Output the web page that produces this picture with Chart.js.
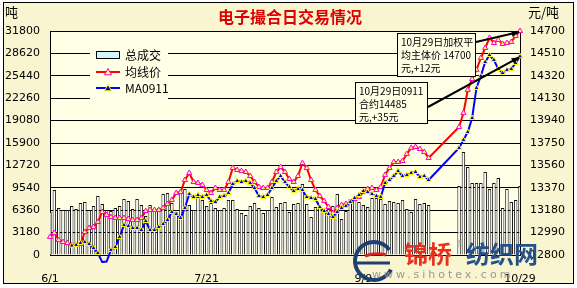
<!DOCTYPE html>
<html lang="zh-CN">
<head>
<meta charset="UTF-8">
<title>电子撮合日交易情况</title>
<script src="https://cdn.jsdelivr.net/npm/chart.js"></script>
<style>
  body { margin: 0; background: #fff; }
  #box { width: 577px; height: 288px; }
</style>
</head>
<body>
<div id="box"><canvas id="myChart"></canvas></div>
<script>
// trading days 2009-06-01 .. 2009-10-29 (weekdays, national holiday has no data)
const days = [
  '6/1','6/2','6/3','6/4','6/5','6/8','6/9','6/10','6/11','6/12','6/15','6/16','6/17','6/18','6/19',
  '6/22','6/23','6/24','6/25','6/26','6/29','6/30',
  '7/1','7/2','7/3','7/6','7/7','7/8','7/9','7/10','7/13','7/14','7/15','7/16','7/17','7/20','7/21',
  '7/22','7/23','7/24','7/27','7/28','7/29','7/30','7/31',
  '8/3','8/4','8/5','8/6','8/7','8/10','8/11','8/12','8/13','8/14','8/17','8/18','8/19','8/20','8/21',
  '8/24','8/25','8/26','8/27','8/28','8/31',
  '9/1','9/2','9/3','9/4','9/7','9/8','9/9','9/10','9/11','9/14','9/15','9/16','9/17','9/18',
  '9/21','9/22','9/23','9/24','9/25','9/28','9/29','9/30',
  '10/1','10/2','10/5','10/6','10/7','10/8','10/9','10/12','10/13','10/14','10/15','10/16',
  '10/19','10/20','10/21','10/22','10/23','10/26','10/27','10/28','10/29'
];
const tickDays = ['6/1', '7/21', '9/9', '10/29'];

// 总成交 (吨)
const volume = [
  6100,9230,6670,6390,6390,6960,6530,7380,7520,6390,
  6960,8380,7240,6390,6250,6670,6960,7950,7670,6530,
  7950,7100,5540,7100,6250,6670,8660,8800,7380,6100,
  9230,9370,7100,6390,8230,7810,6960,7380,6670,6390,
  6670,7810,7810,6530,5960,5680,6960,7380,6670,5960,
  6390,8230,6810,7380,7520,6100,7240,7380,10080,7240,
  5390,6810,6670,6250,6530,6960,8660,5110,6250,7950,
  7810,7520,7100,6810,8090,8090,7950,7240,7670,7520,
  7380,7810,6530,6100,7950,7240,7380,7100,null,null,
  null,null,null,null,9800,14620,12490,10220,10220,10220,
  11780,9370,10220,10930,6670,9370,7520,7810,9800
];

// 均线价 (元/吨)
const avgPrice = [
  12953,12987,12927,12910,12902,12885,12885,12893,12995,13029,
  13037,13080,13165,13140,13122,13114,13114,13114,13105,13097,
  13097,13114,13173,13182,13182,13182,13199,13233,13266,13326,
  13334,13436,13496,13419,13411,13394,13351,13326,13368,13351,
  13351,13419,13538,13521,13512,13504,13470,13419,13377,13368,
  13368,13419,13504,13546,13504,13445,13419,13470,13580,13538,
  13436,13351,13300,13258,13207,13156,13199,13224,13233,13250,
  13275,13292,13334,13360,13368,13351,13377,13479,13538,13589,
  13589,13597,13657,13708,13716,13699,13674,13623,null,null,
  null,null,null,null,13886,14004,14200,14293,14370,14471,
  14556,14641,14598,14624,14590,14598,14607,14658,14700
];

// MA0911 (元/吨)
const ma0911 = [
  null,null,null,null,null,12880,12885,12902,12910,12893,
  12859,12817,12740,12745,12842,12868,12953,13054,13046,13029,
  13029,13012,13088,13012,13012,13037,13063,13097,13165,13148,
  13114,13199,13317,13292,13309,13292,13309,13258,13250,13292,
  13300,13326,13402,13428,13419,13428,13411,13368,13300,13292,
  13309,13368,13428,13470,13419,13377,13343,13360,13351,13292,
  13283,13275,13207,13173,13148,13122,13165,13199,13216,13250,
  13283,13309,13343,13334,13317,13300,13292,13411,13436,13470,
  13512,13470,13479,13496,13504,13462,13470,13436,null,null,
  null,null,null,null,13708,13776,13843,13962,14217,14318,
  14437,14496,14454,14378,14344,14370,14378,14429,14485
];

const volTicks = [0,3180,6360,9540,12720,15900,19080,22260,25440,28620,31800];
const priceTicks = [12800,12990,13180,13370,13560,13750,13940,14130,14320,14510,14700];

const noteAvg = ['10月29日加权平', '均主体价 14700', '元,+12元'];
const noteMa = ['10月29日0911', '合约14485', '元,+35元'];

const OUTER_BG = '#F8F5D0';
const PLOT_BG = '#FFFFE6';
const CJK = '"Noto Sans CJK SC"';

Chart.defaults.font.family = 'DejaVu Sans';
Chart.defaults.font.size = 11;
Chart.defaults.color = '#000';

function tri(ctx, x, y, r, fill, stroke) {
  ctx.beginPath();
  ctx.moveTo(x, y - r);
  ctx.lineTo(x + r, y + r * 0.8);
  ctx.lineTo(x - r, y + r * 0.8);
  ctx.closePath();
  ctx.fillStyle = fill; ctx.fill();
  ctx.strokeStyle = stroke; ctx.lineWidth = 1; ctx.stroke();
}

function arrow(ctx, x1, y1, x2, y2) {
  ctx.strokeStyle = '#000'; ctx.fillStyle = '#000'; ctx.lineWidth = 2;
  ctx.beginPath(); ctx.moveTo(x1, y1); ctx.lineTo(x2, y2); ctx.stroke();
  const a = Math.atan2(y2 - y1, x2 - x1);
  ctx.beginPath();
  ctx.moveTo(x2, y2);
  ctx.lineTo(x2 - 8 * Math.cos(a - 0.4), y2 - 8 * Math.sin(a - 0.4));
  ctx.lineTo(x2 - 8 * Math.cos(a + 0.4), y2 - 8 * Math.sin(a + 0.4));
  ctx.closePath(); ctx.fill();
}

function noteBox(ctx, x, y, w, h, lines) {
  ctx.fillStyle = PLOT_BG;
  ctx.fillRect(x, y, w, h);
  ctx.strokeStyle = '#000'; ctx.lineWidth = 1;
  ctx.strokeRect(x + 0.5, y + 0.5, w, h);
  ctx.fillStyle = '#000';
  ctx.font = '10px ' + CJK;
  ctx.textAlign = 'left'; ctx.textBaseline = 'middle';
  lines.forEach((t, i) => ctx.fillText(t, x + 4, y + 9 + i * 13));
}

const decor = {
  id: 'decor',
  beforeDraw(chart) {
    const ctx = chart.ctx, a = chart.chartArea;
    ctx.save();
    ctx.fillStyle = '#fff';
    ctx.fillRect(0, 0, chart.width, chart.height);
    ctx.fillStyle = OUTER_BG;
    ctx.fillRect(3, 2, 571, 281);
    ctx.strokeStyle = '#000'; ctx.lineWidth = 1;
    ctx.strokeRect(3.5, 2.5, 570, 281);
    ctx.fillStyle = PLOT_BG;
    ctx.fillRect(a.left, a.top, a.right - a.left, a.bottom - a.top);
    ctx.restore();
  },
  afterDraw(chart) {
    const ctx = chart.ctx;
    const x = chart.scales.x, yp = chart.scales.y1;
    ctx.save();

    // title and units
    ctx.textBaseline = 'middle';
    ctx.fillStyle = '#E00000';
    ctx.font = 'bold 16px ' + CJK;
    ctx.textAlign = 'center';
    ctx.fillText('电子撮合日交易情况', 290, 17);
    ctx.fillStyle = '#000';
    ctx.font = '13px ' + CJK;
    ctx.textAlign = 'left';
    ctx.fillText('吨', 5, 12);
    ctx.fillText('元/吨', 528, 12);

    // legend
    ctx.fillStyle = PLOT_BG;
    ctx.fillRect(90, 45, 78, 54);
    ctx.fillStyle = '#D4F4FF'; ctx.strokeStyle = '#000'; ctx.lineWidth = 1;
    ctx.fillRect(96.5, 51.5, 23, 7); ctx.strokeRect(96.5, 51.5, 23, 7);
    ctx.strokeStyle = '#FF0000'; ctx.lineWidth = 2;
    ctx.beginPath(); ctx.moveTo(96, 72); ctx.lineTo(120, 72); ctx.stroke();
    tri(ctx, 108, 72, 3.5, '#FFFF66', '#FF00CC');
    ctx.strokeStyle = '#0000FF'; ctx.lineWidth = 2;
    ctx.beginPath(); ctx.moveTo(96, 88); ctx.lineTo(120, 88); ctx.stroke();
    tri(ctx, 108, 88, 3.5, '#0000CC', '#FFFF00');
    ctx.fillStyle = '#000';
    ctx.font = '12px ' + CJK;
    ctx.textAlign = 'left'; ctx.textBaseline = 'middle';
    ctx.fillText('总成交', 125, 55);
    ctx.fillText('均线价', 125, 72);
    ctx.fillText('MA0911', 125, 88);

    // callouts to the last day
    const last = days.length - 1;
    const xe = x.getPixelForValue(last);
    noteBox(ctx, 397, 33, 78, 43, noteAvg);
    arrow(ctx, 476, 42, xe - 1, yp.getPixelForValue(avgPrice[last]) + 1);
    noteBox(ctx, 355, 82, 72, 41, noteMa);
    arrow(ctx, 428, 107, xe - 1, yp.getPixelForValue(ma0911[last]) + 1);

    // watermark
    ctx.strokeStyle = '#1F3F73'; ctx.lineWidth = 4;
    ctx.beginPath(); ctx.arc(374, 261, 19, 0.15 * Math.PI, 1.8 * Math.PI); ctx.stroke();
    ctx.lineWidth = 3;
    ctx.beginPath(); ctx.moveTo(357, 263); ctx.lineTo(390, 263); ctx.stroke();
    ctx.strokeStyle = '#E02020';
    ctx.beginPath(); ctx.moveTo(365, 256); ctx.quadraticCurveTo(376, 252, 386, 255); ctx.stroke();
    ctx.font = 'bold 24px ' + CJK;
    ctx.textBaseline = 'alphabetic';
    ctx.fillStyle = '#E8301C';
    ctx.fillText('锦桥', 404, 263);
    ctx.fillStyle = '#24508C';
    ctx.fillText('纺织网', 466, 263);
    ctx.fillStyle = '#999';
    ctx.font = '8px DejaVu Sans';
    ctx.fillText('®', 456, 247);
    ctx.font = '11px DejaVu Sans';
    ctx.letterSpacing = '3px';
    ctx.fillText('www.sihotex.com', 372, 278);
    ctx.restore();
  }
};

const ctx = document.getElementById('myChart');

new Chart(ctx, {
  data: {
    labels: days,
    datasets: [
      {
        type: 'line', label: 'MA0911', data: ma0911, yAxisID: 'y1',
        borderColor: '#0000FF', borderWidth: 2, tension: 0, spanGaps: true,
        pointStyle: 'triangle', pointRadius: 3,
        pointBackgroundColor: '#0000CC', pointBorderColor: '#FFFF00', pointBorderWidth: 1,
        clip: 8, order: 1
      },
      {
        type: 'line', label: '均线价', data: avgPrice, yAxisID: 'y1',
        borderColor: '#FF0000', borderWidth: 2, tension: 0, spanGaps: true,
        pointStyle: 'triangle', pointRadius: 3,
        pointBackgroundColor: '#FFFF66', pointBorderColor: '#FF00CC', pointBorderWidth: 1,
        clip: 8, order: 2
      },
      {
        type: 'bar', label: '总成交', data: volume, yAxisID: 'y',
        backgroundColor: '#FFFFFF', borderColor: '#111', borderWidth: 1,
        barPercentage: 0.8, categoryPercentage: 1, order: 3
      }
    ]
  },
  options: {
    responsive: true,
    maintainAspectRatio: false,
    animation: false,
    layout: { padding: { top: 31, left: 0, right: 0, bottom: 0 } },
    plugins: { legend: { display: false }, tooltip: { enabled: false } },
    scales: {
      x: {
        offset: false,
        grid: { display: false },
        border: { color: '#000' },
        ticks: {
          autoSkip: false, maxRotation: 0, padding: 10,
          callback(v, i) { return tickDays.includes(days[i]) ? days[i] : ''; }
        },
        afterFit(s) { s.height = 33; }
      },
      y: {
        position: 'left', min: 0, max: 31800,
        grid: { color: '#000', drawTicks: false },
        border: { color: '#000' },
        ticks: { padding: 10, callback: v => String(v) },
        afterBuildTicks(s) { s.ticks = volTicks.map(v => ({ value: v })); },
        afterFit(s) { s.width = 50; }
      },
      y1: {
        position: 'right', min: 12800, max: 14700,
        grid: { display: false, drawTicks: false },
        border: { color: '#000' },
        ticks: { padding: 10, callback: v => String(v) },
        afterBuildTicks(s) { s.ticks = priceTicks.map(v => ({ value: v })); },
        afterFit(s) { s.width = 57; }
      }
    }
  },
  plugins: [decor]
});
</script>
</body>
</html>
